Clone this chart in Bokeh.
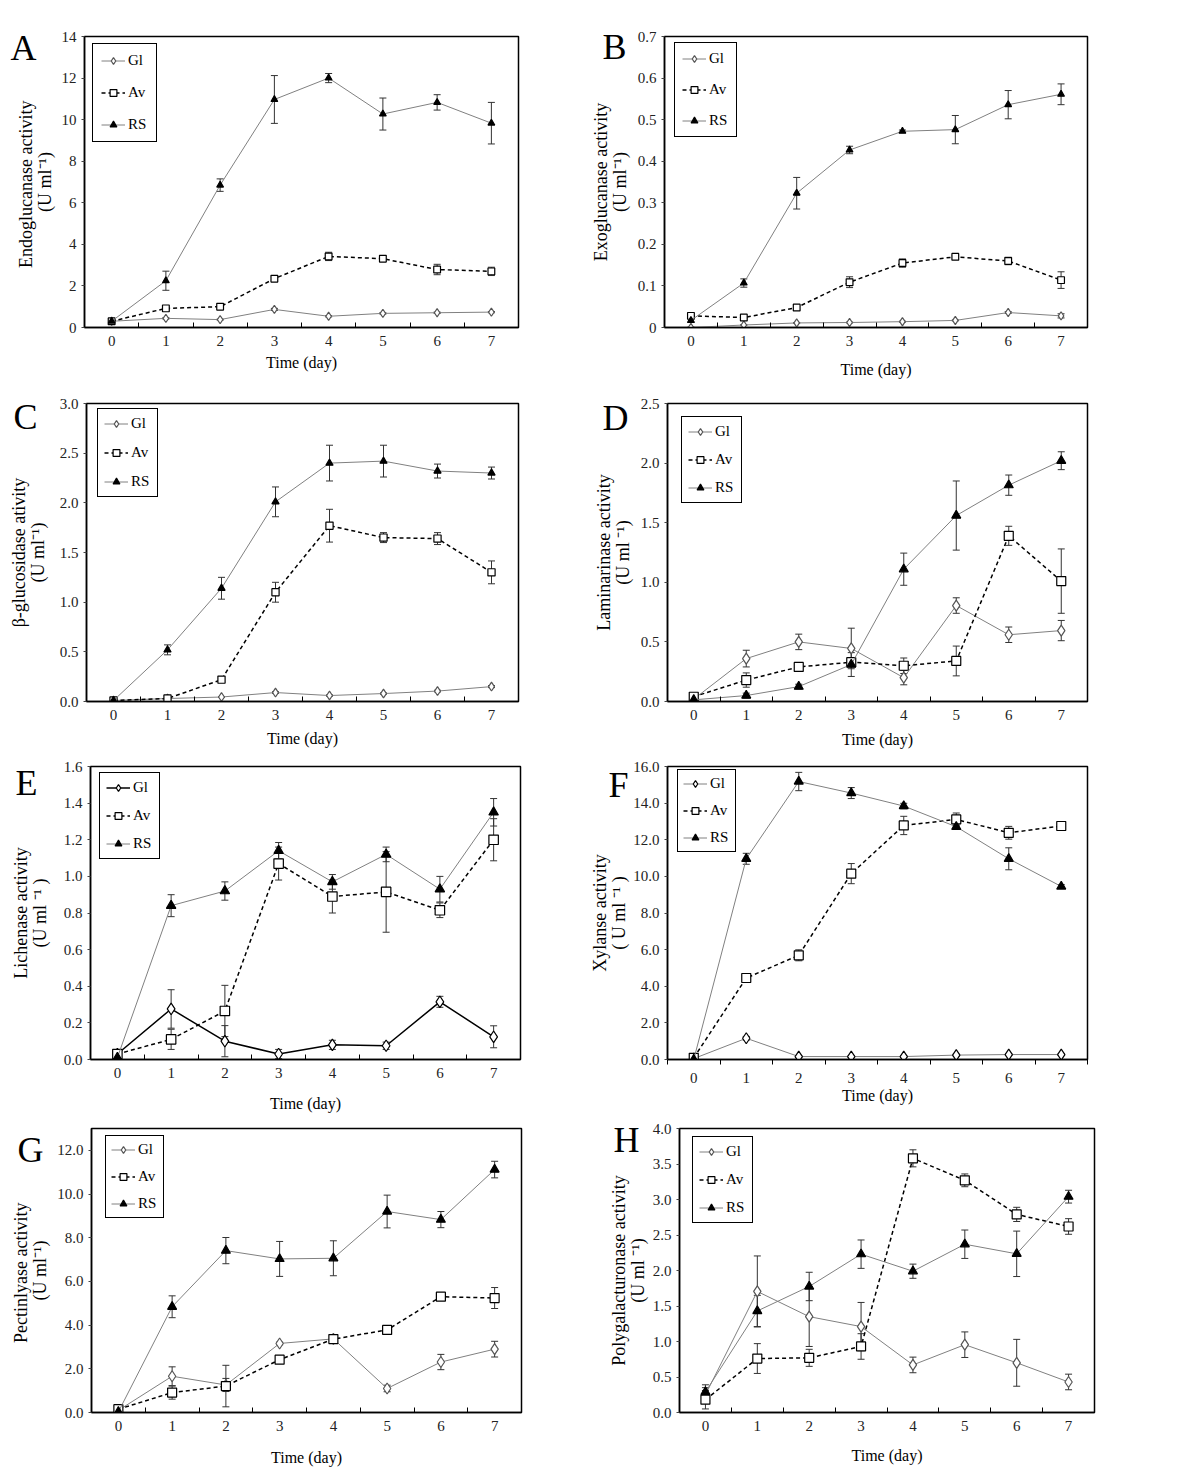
from bokeh.plotting import figure
from bokeh.models import (ColumnDataSource, Whisker, TeeHead, FixedTicker, PrintfTickFormatter,
                          Legend, LegendItem, Label, Range1d)
from bokeh.layouts import column, row
from bokeh.embed import file_html
from bokeh.resources import INLINE

FONT = "Liberation Serif"
days = [0, 1, 2, 3, 4, 5, 6, 7]
series_names = ["Gl", "Av", "RS"]

# ---- A: Endoglucanase ----
A_gl = [0.30, 0.44, 0.38, 0.87, 0.54, 0.68, 0.71, 0.74]
A_gl_err = [0.03, 0.03, 0.02, 0.05, 0.03, 0.03, 0.03, 0.03]
A_av = [0.30, 0.92, 1.00, 2.35, 3.42, 3.31, 2.79, 2.70]
A_av_err = [0.04, 0.06, 0.05, 0.08, 0.20, 0.12, 0.25, 0.20]
A_rs = [0.30, 2.25, 6.85, 10.97, 12.00, 10.27, 10.83, 9.83]
A_rs_err = [0.06, 0.46, 0.30, 1.15, 0.22, 0.77, 0.37, 1.00]

# ---- B: Exoglucanase ----
B_gl = [0.000, 0.006, 0.011, 0.012, 0.014, 0.017, 0.036, 0.028]
B_gl_err = [0.001, 0.001, 0.001, 0.001, 0.001, 0.001, 0.002, 0.005]
B_av = [0.028, 0.024, 0.048, 0.109, 0.155, 0.170, 0.160, 0.114]
B_av_err = [0.006, 0.003, 0.004, 0.013, 0.010, 0.003, 0.009, 0.020]
B_rs = [0.017, 0.107, 0.323, 0.427, 0.472, 0.476, 0.536, 0.561]
B_rs_err = [0.005, 0.010, 0.038, 0.009, 0.003, 0.034, 0.034, 0.025]

# ---- C: beta-glucosidase ----
C_gl = [0.01, 0.03, 0.045, 0.09, 0.06, 0.08, 0.105, 0.15]
C_gl_err = [0.005, 0.005, 0.005, 0.008, 0.006, 0.006, 0.008, 0.01]
C_av = [0.01, 0.03, 0.22, 1.10, 1.77, 1.65, 1.64, 1.30]
C_av_err = [0.005, 0.01, 0.02, 0.10, 0.165, 0.05, 0.06, 0.115]
C_rs = [0.01, 0.52, 1.14, 2.01, 2.40, 2.42, 2.32, 2.30]
C_rs_err = [0.005, 0.05, 0.11, 0.15, 0.18, 0.16, 0.07, 0.06]

# ---- D: Laminarinase ----
D_gl = [0.02, 0.36, 0.50, 0.445, 0.20, 0.805, 0.56, 0.595]
D_gl_err = [0.01, 0.07, 0.065, 0.17, 0.06, 0.065, 0.065, 0.085]
D_av = [0.04, 0.18, 0.29, 0.33, 0.30, 0.34, 1.39, 1.01]
D_av_err = [0.01, 0.06, 0.02, 0.03, 0.065, 0.125, 0.08, 0.27]
D_rs = [0.014, 0.05, 0.125, 0.31, 1.11, 1.56, 1.815, 2.02]
D_rs_err = [0.005, 0.02, 0.02, 0.10, 0.135, 0.29, 0.085, 0.075]

# ---- E: Lichenase ----
E_gl = [0.03, 0.276, 0.10, 0.03, 0.08, 0.075, 0.315, 0.124]
E_gl_err = [0.005, 0.105, 0.085, 0.025, 0.025, 0.02, 0.03, 0.06]
E_av = [0.03, 0.11, 0.265, 1.07, 0.89, 0.915, 0.815, 1.20]
E_av_err = [0.005, 0.055, 0.14, 0.09, 0.09, 0.22, 0.04, 0.115]
E_rs = [0.01, 0.84, 0.92, 1.14, 0.97, 1.12, 0.93, 1.35]
E_rs_err = [0.005, 0.06, 0.05, 0.045, 0.04, 0.04, 0.07, 0.075]

# ---- F: Xylanase ----
F_gl = [0.05, 1.16, 0.16, 0.16, 0.16, 0.24, 0.27, 0.27]
F_gl_err = [0.02, 0.10, 0.05, 0.05, 0.05, 0.05, 0.05, 0.05]
F_av = [0.09, 4.45, 5.69, 10.15, 12.78, 13.11, 12.38, 12.75]
F_av_err = [0.05, 0.15, 0.30, 0.55, 0.50, 0.35, 0.35, 0.10]
F_rs = [0.0, 10.96, 15.18, 14.55, 13.84, 12.71, 10.96, 9.45]
F_rs_err = [0.02, 0.30, 0.50, 0.30, 0.15, 0.10, 0.60, 0.10]

# ---- G: Pectinlyase ----
G_gl = [0.10, 1.66, 1.26, 3.16, 3.37, 1.10, 2.31, 2.90]
G_gl_err = [0.05, 0.43, 0.30, 0.06, 0.08, 0.15, 0.35, 0.36]
G_av = [0.15, 0.91, 1.21, 2.42, 3.36, 3.78, 5.30, 5.24]
G_av_err = [0.05, 0.30, 0.95, 0.10, 0.08, 0.15, 0.08, 0.48]
G_rs = [0.03, 4.84, 7.41, 7.03, 7.06, 9.20, 8.83, 11.12]
G_rs_err = [0.02, 0.50, 0.60, 0.80, 0.80, 0.75, 0.37, 0.38]

# ---- H: Polygalacturonase ----
H_gl = [0.25, 1.705, 1.35, 1.21, 0.67, 0.955, 0.70, 0.43]
H_gl_err = [0.10, 0.50, 0.42, 0.34, 0.11, 0.18, 0.33, 0.11]
H_av = [0.18, 0.76, 0.77, 0.93, 3.58, 3.27, 2.79, 2.62]
H_av_err = [0.13, 0.21, 0.12, 0.18, 0.12, 0.09, 0.10, 0.11]
H_rs = [0.29, 1.43, 1.775, 2.23, 1.99, 2.37, 2.235, 3.04]
H_rs_err = [0.10, 0.22, 0.20, 0.20, 0.10, 0.20, 0.32, 0.09]

# y-axis labels and ticks
ylabels = {
    "A": "Endoglucanase  activity\n(U ml\u207b\u00b9)",
    "B": "Exoglucanase activity\n(U ml\u207b\u00b9)",
    "C": "\u03b2-glucosidase ativity\n(U ml\u207b\u00b9)",
    "D": "Laminarinase activity\n(U ml \u207b\u00b9)",
    "E": "Lichenase activity\n(U ml \u207b\u00b9 )",
    "F": "Xylanse activity\n( U ml \u207b\u00b9 )",
    "G": "Pectinlyase  activity\n(U ml\u207b\u00b9)",
    "H": "Polygalacturonase activity\n(U ml \u207b\u00b9)",
}
yticks = {
    "A": [0, 2, 4, 6, 8, 10, 12, 14],
    "B": [0, 0.1, 0.2, 0.3, 0.4, 0.5, 0.6, 0.7],
    "C": [0, 0.5, 1.0, 1.5, 2.0, 2.5, 3.0],
    "D": [0, 0.5, 1.0, 1.5, 2.0, 2.5],
    "E": [0, 0.2, 0.4, 0.6, 0.8, 1.0, 1.2, 1.4, 1.6],
    "F": [0, 2, 4, 6, 8, 10, 12, 14, 16],
    "G": [0, 2, 4, 6, 8, 10, 12],
    "H": [0, 0.5, 1.0, 1.5, 2.0, 2.5, 3.0, 3.5, 4.0],
}
ymax = {"A": 14, "B": 0.7, "C": 3.0, "D": 2.5, "E": 1.6, "F": 16, "G": 13, "H": 4.0}
yfmt = {"A": "%g", "B": "%g", "C": "%.1f", "D": "%.1f", "E": "%.1f", "F": "%.1f", "G": "%.1f", "H": "%.1f"}

data = {
    "A": (A_gl, A_gl_err, A_av, A_av_err, A_rs, A_rs_err),
    "B": (B_gl, B_gl_err, B_av, B_av_err, B_rs, B_rs_err),
    "C": (C_gl, C_gl_err, C_av, C_av_err, C_rs, C_rs_err),
    "D": (D_gl, D_gl_err, D_av, D_av_err, D_rs, D_rs_err),
    "E": (E_gl, E_gl_err, E_av, E_av_err, E_rs, E_rs_err),
    "F": (F_gl, F_gl_err, F_av, F_av_err, F_rs, F_rs_err),
    "G": (G_gl, G_gl_err, G_av, G_av_err, G_rs, G_rs_err),
    "H": (H_gl, H_gl_err, H_av, H_av_err, H_rs, H_rs_err),
}

# layout geometry: cell size, frame left/top/width/height (px, cell-local)
geom = {
    "A": dict(W=580, H=386, fl=84, ft=32, fw=434, fh=295),
    "B": dict(W=612, H=386, fl=84, ft=36, fw=423, fh=294),
    "C": dict(W=580, H=371, fl=86, ft=17, fw=432, fh=300),
    "D": dict(W=612, H=371, fl=87, ft=16, fw=420, fh=299),
    "E": dict(W=580, H=364, fl=90, ft=9, fw=430, fh=297),
    "F": dict(W=612, H=364, fl=87, ft=9, fw=420, fh=293),
    "G": dict(W=580, H=355, fl=91, ft=3, fw=430, fh=288),
    "H": dict(W=612, H=355, fl=99, ft=7, fw=415, fh=290),
}
# legend: location (from frame bottom-left), padding, spacing
leg = {
    "A": dict(loc=(8, 185), pad=8, sp=15),
    "B": dict(loc=(10, 190), pad=7, sp=14),
    "C": dict(loc=(11, 204), pad=6, sp=12),
    "D": dict(loc=(14, 198), pad=6, sp=11),
    "E": dict(loc=(9, 200), pad=6, sp=11),
    "F": dict(loc=(10, 207), pad=5, sp=10),
    "G": dict(loc=(14, 194), pad=5, sp=10),
    "H": dict(loc=(13, 189), pad=6, sp=11),
}
# panel letter anchor: left edge and vertical anchor, cell-local px
letter_pos = {"A": (10, 44), "B": (22, 47), "C": (13, 31), "D": (22, 31),
              "E": (15, 26), "F": (28, 27), "G": (17, 25), "H": (33, 19)}
ylab_standoff = {"A": 4, "B": 5, "C": 9, "D": 5, "E": 11, "F": 1, "G": 4, "H": 2}
xlab_standoff = {"A": 5, "B": 12, "C": 7, "D": 8, "E": 14, "F": 1, "G": 15, "H": 13}
msize = {"A": 0.75, "B": 0.75, "C": 0.8, "D": 1.0, "E": 1.05, "F": 1.0, "G": 1.0, "H": 1.0}

GRAY = "#808080"


def make_panel(key):
    g = geom[key]
    gl, gl_e, av, av_e, rs, rs_e = data[key]
    p = figure(width=g["W"], height=g["H"], output_backend="svg", toolbar_location=None,
               x_range=Range1d(-0.5, 7.5), y_range=Range1d(0, ymax[key]),
               min_border_left=g["fl"], min_border_top=g["ft"],
               min_border_right=g["W"] - g["fl"] - g["fw"],
               min_border_bottom=g["H"] - g["ft"] - g["fh"])
    p.xgrid.visible = False
    p.ygrid.visible = False
    p.outline_line_color = "black"
    p.outline_line_width = 1.5
    p.outline_line_alpha = 1.0
    p.background_fill_color = "white"
    p.border_fill_color = "white"

    ms = msize[key]
    gl_line = "black" if key == "E" else GRAY
    gl_lw = 1.5 if key == "E" else 1.0
    gl_edge = "black" if key in ("E", "F") else "#555555"

    series = [
        ("Gl", gl, gl_e, dict(line_color=gl_line, line_width=gl_lw), "diamond", 11 * ms, "white", gl_edge),
        ("Av", av, av_e, dict(line_color="black", line_width=1.5, line_dash="4 3"), "square", 9 * ms, "white", "black"),
        ("RS", rs, rs_e, dict(line_color=GRAY, line_width=1.0), "triangle", 9 * ms, "black", "black"),
    ]
    items = []
    for name, ys, es, lstyle, marker, size, fill, edge in series:
        src = ColumnDataSource(dict(x=days, y=ys,
                                    upper=[y + e for y, e in zip(ys, es)],
                                    lower=[y - e for y, e in zip(ys, es)]))
        w = Whisker(source=src, base="x", upper="upper", lower="lower",
                    line_color="#333333", line_width=1,
                    upper_head=TeeHead(size=7, line_color="#333333", line_width=1),
                    lower_head=TeeHead(size=7, line_color="#333333", line_width=1))
        p.add_layout(w)
        lr = p.line("x", "y", source=src, **lstyle)
        sr = p.scatter("x", "y", source=src, marker=marker, size=size,
                       fill_color=fill, line_color=edge, line_width=1.2)
        items.append(LegendItem(label=name, renderers=[lr, sr]))

    L = leg[key]
    legend = Legend(items=items, location=L["loc"], margin=0, padding=L["pad"], spacing=L["sp"],
                    glyph_width=24, glyph_height=17, label_height=17, label_standoff=3,
                    label_text_font=FONT, label_text_font_size="15px", label_text_color="black",
                    border_line_color="black", border_line_width=1.5, border_line_alpha=1.0,
                    background_fill_color="white", background_fill_alpha=1.0)
    p.add_layout(legend)

    # x axis
    xa = p.xaxis[0]
    xa.ticker = FixedTicker(ticks=days, minor_ticks=[d + 0.5 for d in range(-1, 8)])
    xa.major_tick_in = 0
    xa.major_tick_out = 0
    if key == "F":
        xa.minor_tick_in = 0
        xa.minor_tick_out = 5
    else:
        xa.minor_tick_in = 5
        xa.minor_tick_out = 0
    xa.minor_tick_line_color = "black"
    xa.major_label_standoff = 8
    xa.axis_label = "Time (day)"
    xa.axis_label_standoff = xlab_standoff[key]

    ya = p.yaxis[0]
    ya.ticker = FixedTicker(ticks=yticks[key])
    ya.formatter = PrintfTickFormatter(format=yfmt[key])
    ya.major_tick_in = 0
    ya.major_tick_out = 3
    ya.minor_tick_in = 0
    ya.minor_tick_out = 0
    ya.major_label_standoff = 5
    ya.axis_label = ylabels[key]
    ya.axis_label_standoff = ylab_standoff[key]
    ya.axis_label_text_line_height = 0.95

    for ax in (xa, ya):
        ax.axis_line_color = "black"
        ax.axis_line_width = 1.5
        ax.major_tick_line_color = "#444444"
        ax.major_label_text_font = FONT
        ax.major_label_text_font_size = "15px"
        ax.major_label_text_color = "#222222"
        ax.axis_label_text_font = FONT
        ax.axis_label_text_font_style = "normal"
        ax.axis_label_text_color = "black"
    xa.axis_label_text_font_size = "16px"
    ya.axis_label_text_font_size = "18px"

    # panel letter: pixel offsets converted to data space; kept in a side panel
    # so that it is not clipped to the plot frame
    lx, ly = letter_pos[key]
    xd = -0.5 + (lx - g["fl"]) * 8.0 / g["fw"]
    yd = ymax[key] * (g["ft"] + g["fh"] - ly) / g["fh"]
    lab = Label(x=xd, y=yd, x_units="data", y_units="data", text=key,
                text_font=FONT, text_font_size="36px", text_color="black",
                text_baseline="alphabetic", text_align="left")
    p.add_layout(lab, "right")
    return p


panels = {k: make_panel(k) for k in "ABCDEFGH"}
layout = column(row(panels["A"], panels["B"]),
                row(panels["C"], panels["D"]),
                row(panels["E"], panels["F"]),
                row(panels["G"], panels["H"]))

open("out.html", "w").write(file_html(layout, INLINE))
